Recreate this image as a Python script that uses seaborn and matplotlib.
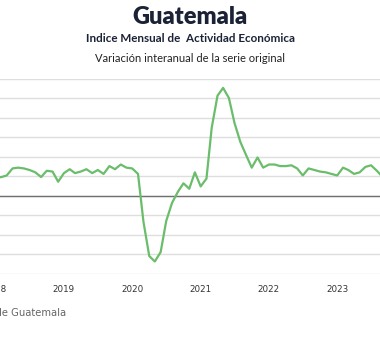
import matplotlib
matplotlib.use("Agg")
import matplotlib.pyplot as plt
import matplotlib.dates as mdates
import numpy as np
import pandas as pd
import seaborn as sns

# ---- data (year-on-year % change, monthly) ----
start_month = "2018-01-01"
end_month = "2023-09-01"
imae_yoy = [
    2.3, 2.4, 2.6, 3.5, 3.6, 3.5, 3.3, 3.0, 2.4, 3.2, 3.1, 1.8,   # 2018
    2.9, 3.4, 2.9, 3.1, 3.4, 2.9, 3.3, 2.8, 3.8, 3.4, 4.0, 3.6,   # 2019
    3.5, 2.8, -3.3, -7.7, -8.4, -7.2, -3.2, -0.9, 0.5, 1.6, 0.9, 3.0,  # 2020
    1.2, 2.2, 8.7, 12.8, 13.8, 12.5, 9.3, 6.9, 5.2, 3.6, 4.9, 3.6,  # 2021
    4.0, 4.0, 3.8, 3.8, 3.9, 3.5, 2.6, 3.5, 3.3, 3.1, 3.0, 2.8,   # 2022
    2.6, 3.6, 3.3, 2.8, 3.0, 3.7, 3.9, 3.2, 2.4,                  # 2023
]
year_ticks = [2018, 2019, 2020, 2021, 2022, 2023]
title = "Guatemala"
subtitle = "Indice Mensual de  Actividad Económica"
subtitle2 = "Variación interanual de la serie original"
source = "Fuente: Banco de Guatemala"

df = pd.DataFrame({
    "fecha": pd.date_range(start_month, end_month, freq="MS"),
    "valor": imae_yoy,
})

W, H = 380, 340
fig = plt.figure(figsize=(W / 100, H / 100), dpi=100)
fig.patch.set_facecolor("white")

# axes spans beyond figure edges horizontally (cropped view)
ax_left_px, ax_right_px = -38, 418
ax_top_px, ax_bot_px = 78.5, 274
ax = fig.add_axes([ax_left_px / W, 1 - ax_bot_px / H,
                   (ax_right_px - ax_left_px) / W, (ax_bot_px - ax_top_px) / H])

sns.lineplot(data=df, x="fecha", y="valor", ax=ax, color="#6abd6a", linewidth=1.6)

def frac_year_to_date(fy):
    y = int(np.floor(fy))
    d0 = pd.Timestamp(f"{y}-01-01")
    d1 = pd.Timestamp(f"{y+1}-01-01")
    return d0 + (d1 - d0) * (fy - y)

px_per_year = 68.3
x2019 = 64
xmin = frac_year_to_date(2019 + (ax_left_px - x2019) / px_per_year)
xmax = frac_year_to_date(2019 + (ax_right_px - x2019) / px_per_year)
ax.set_xlim(xmin, xmax)
ax.set_ylim(-10, 15)

ax.set_yticks(np.arange(-10, 15.01, 2.5))
ax.yaxis.grid(True, color="#dedede", linewidth=1.0)
ax.set_axisbelow(True)
ax.axhline(0, color="#707070", linewidth=1.0, zorder=1.5)
ax.set_yticklabels([])
ax.tick_params(axis="y", length=0)

ax.set_xticks([pd.Timestamp(f"{y}-01-01") for y in year_ticks])
ax.xaxis.set_major_formatter(mdates.DateFormatter("%Y"))
ax.tick_params(axis="x", length=0, pad=8, labelsize=6.3, labelcolor="#333333")
ax.set_xlabel("")
ax.set_ylabel("")
for s in ax.spines.values():
    s.set_visible(False)

fig.text(0.5, 1 - 17 / H, title, ha="center", va="center", fontsize=17,
         fontweight="heavy", color="#1b2236", family=["Lato", "DejaVu Sans"])
fig.text(0.5, 1 - 38.5 / H, subtitle, ha="center", va="center", fontsize=8.4,
         fontweight="bold", color="#1b2236", family=["Lato", "DejaVu Sans"])
fig.text(0.5, 1 - 58.5 / H, subtitle2, ha="center", va="center", fontsize=8.0,
         color="#222222", family=["Lato", "DejaVu Sans"])
fig.text(66 / W, 1 - 313 / H, source, ha="right", va="center", fontsize=7.2,
         color="#666666")

fig.savefig("out.png", dpi=100, facecolor="white")
